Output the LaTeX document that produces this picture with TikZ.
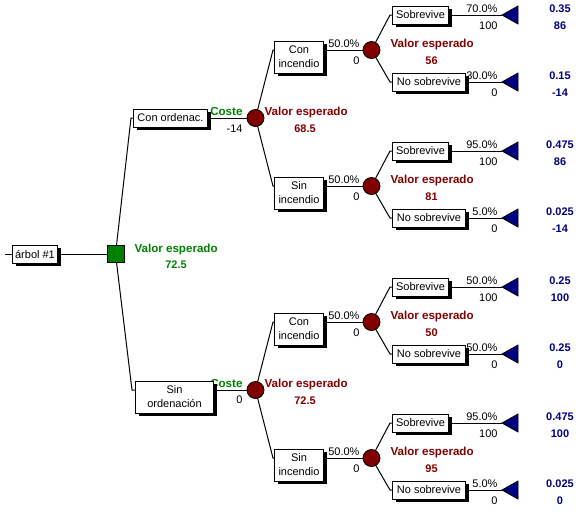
\documentclass[tikz,border=0pt]{standalone}
\usepackage{fontspec}
\setmainfont{Liberation Sans}
\usetikzlibrary{shadows,backgrounds,calc}
\definecolor{vgreen}{RGB}{0,128,0}
\definecolor{vred}{RGB}{128,0,0}
\definecolor{vblue}{RGB}{0,0,128}
\newcommand{\mkleaf}[8]{%
  \node[box, minimum width=#4, anchor=west] (#1) at (392,#2) {#3};
  \coordinate (t#1) at (502,#2);
  \node[lbl, anchor=base east] (p#1) at (498,#2-3) {#5};
  \node[lbl, anchor=base east] (v#1) at (498,#2+14) {#6};
  \node[lbl, anchor=base, blueval] (b#1) at (560,#2-3) {#7};
  \node[lbl, anchor=base, blueval] (c#1) at (560,#2+14) {#8};
  \draw[leaftri] (t#1) -- ++(16,-9) -- ++(0,18) -- cycle;
}
\begin{document}
\begin{tikzpicture}[x=1pt,y=-1pt,
  every node/.style={font=\fontsize{11}{14}\selectfont},
  line width=1pt,
  lbl/.style={inner sep=0pt},
  boldtxt/.style={font=\fontsize{11}{14}\selectfont\bfseries},
  bigbold/.style={font=\fontsize{11.6}{14}\selectfont\bfseries},
  greenval/.style={boldtxt, text=vgreen},
  greenlbl/.style={bigbold, text=vgreen},
  redval/.style={boldtxt, text=vred},
  redlbl/.style={bigbold, text=vred},
  blueval/.style={boldtxt, text=vblue},
  box/.style={draw, fill=white, line width=1pt, inner xsep=2pt, inner ysep=0pt,
    minimum height=18pt, align=center,
    drop shadow={shadow xshift=3pt, shadow yshift=-3pt, fill=black, opacity=1}},
  box2/.style={box, minimum height=32pt, anchor=north west},
  chance/.style={circle, draw, fill=vred, minimum size=17pt, inner sep=0pt, line width=0.8pt},
  decision/.style={rectangle, draw, fill=vgreen, minimum size=17pt, inner sep=0pt, line width=0.8pt},
  leaftri/.style={draw, fill=vblue, line width=0.8pt, line join=miter},
  conn/.style={draw, line width=1pt}
]
\useasboundingbox (0,0) rectangle (583,512);

% root
\coordinate (rin) at (5,254);
\node[box, minimum width=45pt, anchor=west] (r0) at (12,254) {árbol \#1};
\node[decision] (d0) at (115.5,254) {};
\node[lbl, anchor=base west, greenlbl] (d0l) at (134,252) {Valor esperado};
\node[lbl, anchor=base, greenval] (d0v) at (176,268) {72.5};

% cost labels (drawn before boxes)
\node[lbl, anchor=base east, greenlbl] (costa) at (243,115) {Coste};
\node[lbl, anchor=base east] (costav) at (243,132) {-14};
\node[lbl, anchor=base east, greenlbl] (costb) at (243,387) {Coste};
\node[lbl, anchor=base east] (costbv) at (243,403) {0};

% level 1
\coordinate (ea) at (131,118);
\node[box, minimum width=74pt, anchor=west] (a) at (133,118) {Con ordenac.};
\node[chance] (ca) at (255.5,118) {};
\node[lbl, anchor=base west, redlbl] (cal) at (264,115) {Valor esperado};
\node[lbl, anchor=base, redval] (cav) at (305,132) {68.5};

\coordinate (eb) at (132,390);
\node[box2, minimum width=78pt] (b) at (135,380.5) {Sin\\ordenación};
\node[chance] (cb) at (255.5,390) {};
\node[lbl, anchor=base west, redlbl] (cbl) at (264,387) {Valor esperado};
\node[lbl, anchor=base, redval] (cbv) at (305,404) {72.5};

% level 2
\foreach \nm/\yy/\txt/\val in {aa/50/Con\\incendio/56, ab/186/Sin\\incendio/81, ba/322/Con\\incendio/50, bb/458/Sin\\incendio/95}{
  \coordinate (e\nm) at (273,\yy);
  \node[box2, minimum width=49pt] (\nm) at (274,\yy-9.5) {\txt};
  \node[chance] (c\nm) at (371.5,\yy) {};
  \node[lbl, anchor=base east] (p\nm) at (360,\yy-3) {50.0\%};
  \node[lbl, anchor=base east] (v\nm) at (360,\yy+14) {0};
  \node[lbl, anchor=base west, redlbl] (l\nm) at (390,\yy-3) {Valor esperado};
  \node[lbl, anchor=base, redval] (w\nm) at (431.5,\yy+14) {\val};
}

% level 3 (leaves)
\mkleaf{aaa}{15}{Sobrevive}{56pt}{70.0\%}{100}{0.35}{86}
\mkleaf{aab}{82}{No sobrevive}{73pt}{30.0\%}{0}{0.15}{-14}
\mkleaf{aba}{151}{Sobrevive}{56pt}{95.0\%}{100}{0.475}{86}
\mkleaf{abb}{218}{No sobrevive}{73pt}{5.0\%}{0}{0.025}{-14}
\mkleaf{baa}{287}{Sobrevive}{56pt}{50.0\%}{100}{0.25}{100}
\mkleaf{bab}{354}{No sobrevive}{73pt}{50.0\%}{0}{0.25}{0}
\mkleaf{bba}{423}{Sobrevive}{56pt}{95.0\%}{100}{0.475}{100}
\mkleaf{bbb}{490}{No sobrevive}{73pt}{5.0\%}{0}{0.025}{0}

\foreach \nm/\yy in {aaa/15,aab/82,aba/151,abb/218,baa/287,bab/354,bba/423,bbb/490}{
  \coordinate (e\nm) at (390,\yy);
}

\begin{pgfonlayer}{background}
  \draw[conn] (rin) -- (r0.west);
  \draw[conn] (r0.east) -- (d0);
  \draw[conn] (d0.center) -- (ea) -- (ea -| a.west);
  \draw[conn] (d0.center) -- (eb) -- (eb -| b.west);
  \draw[conn] (a.east) -- (ca);
  \draw[conn] (b.east |- cb) -- (cb);
  \foreach \p/\c in {ca/aa, ca/ab, cb/ba, cb/bb}{
    \draw[conn] (\p.center) -- (e\c) -- (e\c -| \c.west);
    \draw[conn] (\c.east |- c\c) -- (c\c);
  }
  \foreach \p/\c in {caa/aaa, caa/aab, cab/aba, cab/abb, cba/baa, cba/bab, cbb/bba, cbb/bbb}{
    \draw[conn] (\p.center) -- (e\c) -- (\c.west);
    \draw[conn] (\c.east) -- (t\c);
  }
\end{pgfonlayer}
\end{tikzpicture}
\end{document}
